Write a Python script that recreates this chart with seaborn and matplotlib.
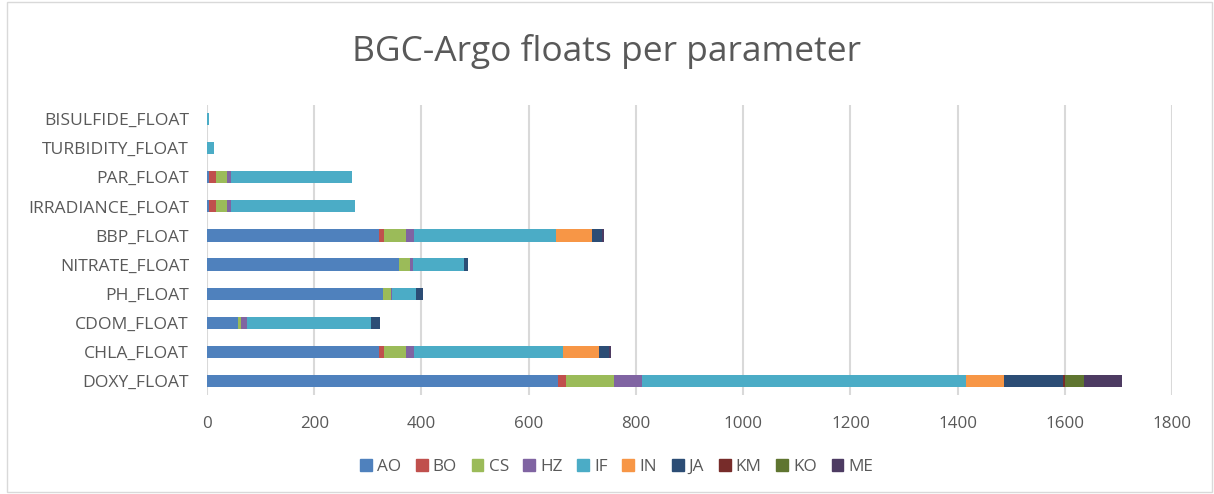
import numpy as np
import pandas as pd
import matplotlib
matplotlib.use("Agg")
import matplotlib.pyplot as plt
import seaborn as sns
from matplotlib.patches import Rectangle

# -----------------------------
# Data
# -----------------------------
parameters = ['BISULFIDE_FLOAT', 'TURBIDITY_FLOAT', 'PAR_FLOAT', 'IRRADIANCE_FLOAT',
              'BBP_FLOAT', 'NITRATE_FLOAT', 'PH_FLOAT', 'CDOM_FLOAT',
              'CHLA_FLOAT', 'DOXY_FLOAT']
dacs = ['AO', 'BO', 'CS', 'HZ', 'IF', 'IN', 'JA', 'KM', 'KO', 'ME']

AO = [0, 0, 4, 4, 320, 358, 328, 57, 320, 654]
BO = [0, 0, 13, 13, 11, 0, 0, 0, 11, 16]
CS = [0, 0, 20, 20, 40, 20, 15, 6, 40, 90]
HZ = [0, 0, 7, 7, 15, 6, 2, 12, 15, 51]
IF = [3, 13, 226, 232, 264, 95, 45, 231, 278, 604]
IN = [0, 0, 0, 0, 68, 0, 0, 0, 67, 71]
JA = [0, 0, 0, 0, 19, 8, 13, 16, 19, 111]
KM = [0, 0, 0, 0, 0, 0, 0, 0, 0, 3]
KO = [0, 0, 0, 0, 0, 0, 0, 0, 0, 36]
ME = [0, 0, 0, 0, 3, 0, 0, 0, 3, 70]

colors = ['#4F81BD', '#C0504D', '#9BBB59', '#8064A2', '#4BACC6',
          '#F79646', '#2C4D75', '#772C2A', '#5F7530', '#4D3B62']

df = pd.DataFrame({'AO': AO, 'BO': BO, 'CS': CS, 'HZ': HZ, 'IF': IF,
                   'IN': IN, 'JA': JA, 'KM': KM, 'KO': KO, 'ME': ME},
                  index=parameters)
cum = df[dacs].cumsum(axis=1)
cum['parameter'] = parameters

# -----------------------------
# Plot
# -----------------------------
sns.set_theme(style='white')
plt.rcParams['font.family'] = ['Open Sans', 'DejaVu Sans']
text_col = '#595959'

fig = plt.figure(figsize=(12.14, 4.94), dpi=100)
ax = fig.add_axes([0.1705, 0.1994, 0.795, 0.589])

# stacked bars: draw cumulative totals from the last series back to the first
for dac, col in reversed(list(zip(dacs, colors))):
    sns.barplot(data=cum, x=dac, y='parameter', order=parameters,
                color=col, width=0.42, linewidth=0, saturation=1, ax=ax)

ax.set_xlim(0, 1800)
ax.set_xticks(range(0, 1801, 200))
ax.set_xlabel('')
ax.set_ylabel('')
ax.grid(axis='x', color='#D9D9D9', linewidth=1.5)
ax.set_axisbelow(True)
for s in ax.spines.values():
    s.set_visible(False)
ax.tick_params(axis='y', length=0, labelsize=12.6, colors=text_col, pad=13)
ax.tick_params(axis='x', length=0, labelsize=12.2, colors=text_col, pad=15)

fig.text(0.5, 0.895, 'BGC-Argo floats per parameter', ha='center', va='center',
         fontsize=25.5, color=text_col)

handles = [Rectangle((0, 0), 1, 1, color=c) for c in colors]
fig.legend(handles, dacs, loc='center', bbox_to_anchor=(0.508, 0.055), ncol=10,
           frameon=False, fontsize=12.3, handlelength=0.7, handleheight=0.7,
           handletextpad=0.3, columnspacing=0.85, labelcolor=text_col)

fig.patches.append(Rectangle((0.006, 0.004), 0.992, 0.992, transform=fig.transFigure,
                             fill=False, edgecolor='#D9D9D9', linewidth=1))

plt.savefig('out.png', dpi=100)
